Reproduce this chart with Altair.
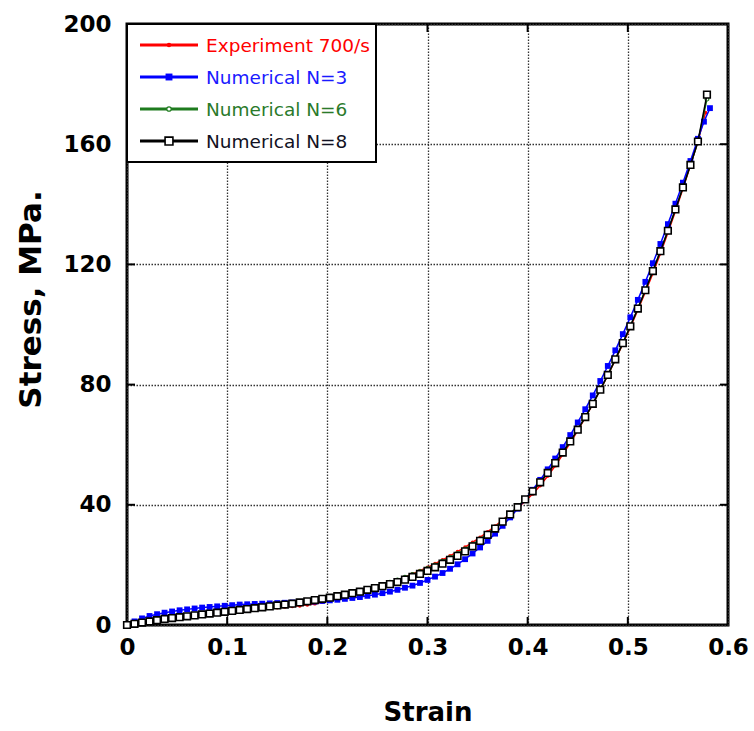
import altair as alt
import pandas as pd

# ---------------- data ----------------
STRAIN = [0.0, 0.0075, 0.015, 0.0225, 0.03, 0.0375, 0.045, 0.0525, 0.06, 0.0675,
          0.075, 0.0825, 0.09, 0.0975, 0.105, 0.1125, 0.12, 0.1275, 0.135, 0.1425,
          0.15, 0.1575, 0.165, 0.1725, 0.18, 0.1875, 0.195, 0.2025, 0.21, 0.2175,
          0.225, 0.2325, 0.24, 0.2475, 0.255, 0.2625, 0.27, 0.2775, 0.285, 0.2925,
          0.30, 0.3075, 0.315, 0.3225, 0.33, 0.3375, 0.345, 0.3525, 0.36, 0.3675,
          0.375, 0.3825, 0.39, 0.3975, 0.405, 0.4125, 0.42, 0.4275, 0.435, 0.4425,
          0.45, 0.4575, 0.465, 0.4725, 0.48, 0.4875, 0.495, 0.5025, 0.51, 0.5175,
          0.525, 0.5325, 0.54, 0.5475, 0.555, 0.5625, 0.57]

EXP_STRAIN = STRAIN + [0.5775]
EXP_STRESS = [0.0, 0.3, 0.6, 0.9, 1.2, 1.5, 1.8, 2.1, 2.4, 2.7,
              3.0, 3.3, 3.6, 3.9, 4.2, 4.5, 4.8, 5.1, 5.4, 5.6,
              5.8, 6.0, 6.2, 6.4, 6.7, 7.1, 7.6, 8.2, 8.8, 9.5,
              10.2, 10.9, 11.7, 12.5, 13.3, 14.1, 15.0, 16.0, 17.0, 18.1,
              19.2, 20.4, 21.7, 23.0, 24.4, 25.9, 27.5, 29.2, 31.0, 32.9,
              34.9, 37.0, 39.0, 41.2, 43.6, 46.4, 49.6, 53.0, 56.7, 60.6,
              64.7, 69.0, 73.5, 78.2, 83.1, 88.2, 93.5, 99.0, 104.8, 110.8,
              117.0, 123.6, 130.5, 137.7, 145.2, 153.0, 161.0, 170.5]

N3_STRAIN = STRAIN + [0.576, 0.582]
N3_STRESS = [0.0, 1.2, 2.2, 3.0, 3.6, 4.1, 4.5, 4.9, 5.2, 5.5,
             5.8, 6.0, 6.2, 6.4, 6.6, 6.8, 6.9, 7.0, 7.1, 7.2,
             7.3, 7.4, 7.5, 7.6, 7.7, 7.8, 8.0, 8.2, 8.4, 8.7,
             9.0, 9.3, 9.7, 10.1, 10.6, 11.1, 11.7, 12.4, 13.1, 14.0,
             15.0, 16.1, 17.3, 18.7, 20.2, 21.9, 23.8, 25.8, 28.0, 30.4,
             33.0, 35.8, 38.7, 41.8, 45.0, 48.3, 51.8, 55.4, 59.2, 63.2,
             67.4, 71.8, 76.4, 81.2, 86.2, 91.4, 96.8, 102.4, 108.2, 114.2,
             120.4, 126.8, 133.4, 140.2, 147.2, 154.4, 161.8, 167.5, 172.0]

N6_STRAIN = STRAIN + [0.579]
N6_STRESS = [0.0, 0.4, 0.8, 1.2, 1.6, 1.9, 2.2, 2.5, 2.8, 3.1,
             3.4, 3.7, 4.0, 4.3, 4.6, 4.9, 5.2, 5.5, 5.8, 6.1,
             6.4, 6.7, 7.0, 7.4, 7.8, 8.2, 8.7, 9.2, 9.7, 10.2,
             10.8, 11.4, 12.0, 12.7, 13.4, 14.2, 15.0, 15.9, 16.8, 17.8,
             18.8, 20.0, 21.2, 22.5, 23.8, 25.3, 26.9, 28.6, 30.5, 32.5,
             34.7, 37.0, 39.4, 41.9, 44.6, 47.5, 50.6, 53.9, 57.4, 61.1,
             65.0, 69.2, 73.6, 78.3, 83.2, 88.4, 93.8, 99.4, 105.3, 111.4,
             117.8, 124.4, 131.2, 138.3, 145.6, 153.1, 160.9, 175.0]

N8_STRAIN = STRAIN + [0.579]
N8_STRESS = [0.0, 0.4, 0.8, 1.2, 1.6, 2.0, 2.3, 2.6, 2.9, 3.2,
             3.5, 3.8, 4.1, 4.4, 4.7, 5.0, 5.3, 5.6, 5.9, 6.2,
             6.5, 6.8, 7.1, 7.5, 7.9, 8.3, 8.7, 9.1, 9.6, 10.1,
             10.6, 11.1, 11.7, 12.3, 12.9, 13.6, 14.3, 15.1, 16.0, 17.0,
             18.0, 19.2, 20.4, 21.7, 23.0, 24.5, 26.2, 28.0, 30.0, 32.1,
             34.4, 36.8, 39.2, 41.8, 44.5, 47.5, 50.6, 53.9, 57.4, 61.1,
             65.0, 69.2, 73.6, 78.3, 83.2, 88.4, 93.8, 99.4, 105.3, 111.4,
             117.8, 124.4, 131.2, 138.3, 145.6, 153.1, 160.9, 176.5]

LABELS = ["Experiment 700/s", "Numerical N=3", "Numerical N=6", "Numerical N=8"]
X_TICKS = [0, 0.1, 0.2, 0.3, 0.4, 0.5, 0.6]
Y_TICKS = [0, 40, 80, 120, 160, 200]

# ---------------- styling ----------------
W, H = 601, 601
FONT = "DejaVu Sans"
COLORS = ["#ff0000", "#0000ff", "#1e7b1e", "#000000"]
TEXT_COLORS = ["#ff0000", "#1a1aff", "#2a7a2a", "#111122"]

series = [
    (LABELS[0], EXP_STRAIN, EXP_STRESS),
    (LABELS[1], N3_STRAIN, N3_STRESS),
    (LABELS[2], N6_STRAIN, N6_STRESS),
    (LABELS[3], N8_STRAIN, N8_STRESS),
]

x_axis = alt.Axis(values=X_TICKS, format="~g", grid=True, gridDash=[1.5, 1.5],
                  gridColor="#333", gridWidth=1.3, gridOpacity=1, ticks=False, domain=False,
                  labelFont=FONT, labelFontWeight="bold", labelFontSize=23,
                  labelColor="black", labelPadding=11, labelFlush=False,
                  title="Strain", titleFont=FONT, titleFontWeight="bold",
                  titleFontSize=26, titleColor="black", titleX=W / 2, titleY=87,
                  titleBaseline="middle", titleAlign="center")
y_axis = alt.Axis(values=Y_TICKS, grid=True, gridDash=[1.5, 1.5],
                  gridColor="#333", gridWidth=1.3, gridOpacity=1, ticks=False, domain=False,
                  labelFont=FONT, labelFontWeight="bold", labelFontSize=23,
                  labelColor="black", labelPadding=16, labelFlush=False,
                  title="Stress, MPa.", titleFont=FONT, titleFontWeight="bold",
                  titleFontSize=31, titleColor="black", titleX=-96, titleY=275,
                  titleAngle=270, titleBaseline="middle", titleAlign="center")

xs = alt.Scale(domain=[0, 0.6], nice=False, zero=False)
ys = alt.Scale(domain=[0, 200], nice=False, zero=False)
X = alt.X("strain:Q", scale=xs, axis=x_axis)
Y = alt.Y("stress:Q", scale=ys, axis=y_axis)


def df_of(strain, stress):
    return pd.DataFrame({"strain": strain, "stress": stress})


layers = []
marker_styles = {
    LABELS[0]: dict(shape="circle", filled=True, color=COLORS[0], size=14),
    LABELS[1]: dict(shape="square", filled=True, color=COLORS[1], size=34),
    LABELS[2]: dict(shape="circle", filled=True, fill="white", stroke=COLORS[2],
                    strokeWidth=1.2, size=14),
    LABELS[3]: dict(shape="square", filled=True, fill="white", stroke="black",
                    strokeWidth=1.6, size=44),
}
# order of drawing: experiment, N=6, N=3, N=8 (top)
for idx in [0, 2, 1, 3]:
    name, sx, sy = series[idx]
    base = alt.Chart(df_of(sx, sy))
    layers.append(base.mark_line(color=COLORS[idx], strokeWidth=1.5, clip=False).encode(x=X, y=Y))
    layers.append(base.mark_point(opacity=1, clip=False, **marker_styles[name]).encode(x=X, y=Y))

# inward tick marks on all four sides
xt = pd.DataFrame({"strain": X_TICKS[1:-1]})
yt = pd.DataFrame({"stress": Y_TICKS[1:-1]})
TL = 8
layers.append(alt.Chart(xt).mark_rule(color="black", strokeWidth=2).encode(
    x=X, y=alt.value(H), y2=alt.value(H - TL)))
layers.append(alt.Chart(xt).mark_rule(color="black", strokeWidth=2).encode(
    x=X, y=alt.value(0), y2=alt.value(TL)))
layers.append(alt.Chart(yt).mark_rule(color="black", strokeWidth=2).encode(
    y=Y, x=alt.value(0), x2=alt.value(TL)))
layers.append(alt.Chart(yt).mark_rule(color="black", strokeWidth=2).encode(
    y=Y, x=alt.value(W), x2=alt.value(W - TL)))

# legend box
one = pd.DataFrame({"k": [0]})
layers.append(alt.Chart(one).mark_rect(fill="white", stroke="black", strokeWidth=2).encode(
    x=alt.value(0), x2=alt.value(249), y=alt.value(0), y2=alt.value(138)))

ROW_Y = [21, 53, 85, 117]
for i, name in enumerate(LABELS):
    yy = ROW_Y[i]
    layers.append(alt.Chart(one).mark_rule(color=COLORS[i], strokeWidth=3).encode(
        x=alt.value(13), x2=alt.value(71), y=alt.value(yy)))
    ms = dict(marker_styles[name])
    ms["size"] = ms["size"] * 1.4
    layers.append(alt.Chart(one).mark_point(opacity=1, **ms).encode(
        x=alt.value(42), y=alt.value(yy)))
    layers.append(alt.Chart(one).mark_text(align="left", baseline="middle", font=FONT,
                                           fontSize=18.5, color=TEXT_COLORS[i]).encode(
        x=alt.value(79), y=alt.value(yy + 1), text=alt.value(name)))

chart = alt.layer(*layers).properties(
    width=W, height=H,
    autosize=alt.AutoSizeParams(type="none"),
    padding={"left": 127, "top": 24, "right": 26, "bottom": 106},
    background="white",
).configure_view(stroke="black", strokeWidth=3)

chart.save("out.html", embed_options={"renderer": "svg", "actions": False})
